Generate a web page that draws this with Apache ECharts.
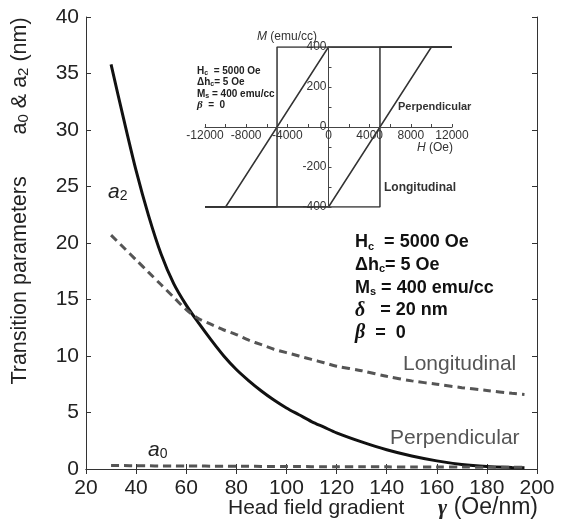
<!DOCTYPE html>
<html>
<head>
<meta charset="utf-8">
<script src="https://cdn.jsdelivr.net/npm/echarts@6/dist/echarts.min.js"></script>
<style>
html,body{margin:0;padding:0;background:#fff;}
#container{width:572px;height:530px;}
</style>
</head>
<body>
<div id="container"></div>
<script>
// main plot: transition parameters vs head field gradient
var gamma = [30,35,40,45,50,55,60,65,70,75,80,85,90,95,100,105,110,115,120,130,140,150,160,170,180,190,195];
var a2Perp = [35.8,31.0,26.4,22.4,19.0,16.4,14.5,12.9,11.4,10.0,8.8,7.8,6.9,6.1,5.4,4.8,4.2,3.7,3.2,2.4,1.7,1.15,0.72,0.4,0.22,0.13,0.1];
var a2Long = [20.7,19.6,18.5,17.4,16.3,15.2,14.1,13.3,12.8,12.3,11.9,11.4,11.0,10.6,10.3,10.0,9.7,9.4,9.1,8.7,8.2,7.8,7.5,7.2,6.95,6.7,6.6];
var a0Long = [0.3,0.3,0.29,0.28,0.27,0.27,0.26,0.26,0.25,0.25,0.24,0.24,0.23,0.23,0.22,0.22,0.21,0.21,0.2,0.2,0.19,0.18,0.18,0.17,0.16,0.15,0.15];

// inset: hysteresis loops
var perpUpH = [-12000,0,10000,12000];
var perpUpM = [-400,-400,400,400];
var perpDownH = [12000,0,-10000,-12000];
var perpDownM = [400,400,-400,-400];
var longUpH = [-12000,5000,5000,12000];
var longUpM = [-400,-400,400,400];
var longDownH = [12000,-5000,-5000,-12000];
var longDownM = [400,400,-400,-400];

var mainText = [
    '{b|H}{bs|c}{b|  = 5000 Oe}',
    '{b|\u0394h}{bs|c}{b|= 5 Oe}',
    '{b|M}{bs|s}{b| = 400 emu/cc}',
    '{g|\u03b4}{b|   = 20 nm}',
    '{g|\u03b2}{b|  =  0}'
];
var insetText = [
    '{b|H}{bs|c}{b|  = 5000 Oe}',
    '{b|\u0394h}{bs|c}{b|= 5 Oe}',
    '{b|M}{bs|s}{b| = 400 emu/cc}',
    '{g|\u03b2}{b|  =  0}'
];

function zip(xs, ys){
    return xs.map(function(x, i){ return [x, ys[i]]; });
}

var FONT = 'Liberation Sans, Arial, sans-serif';
var myChart = echarts.init(document.getElementById('container'));

var mainAxisLine = {lineStyle:{color:'#333', width:1}};
var insetAxisLine = {lineStyle:{color:'#444', width:1}};

var graphics = [];
// y axis title
graphics.push({
    type:'text', x:20, y:201, rotation:Math.PI/2,
    style:{
        text:'{n|Transition parameters       a}{s|0}{n| & a}{s|2}{n| (nm)}',
        align:'center', verticalAlign:'middle',
        rich:{
            n:{fontSize:21.5, fontFamily:FONT, fill:'#222', lineHeight:22},
            s:{fontSize:15, fontFamily:FONT, fill:'#222', lineHeight:6, verticalAlign:'bottom'}
        }
    }
});
// x axis title
graphics.push({
    type:'text', x:228, y:508,
    style:{text:'Head field gradient', fontSize:21, fontFamily:FONT, fill:'#222', verticalAlign:'middle'}
});
graphics.push({
    type:'text', x:538, y:508,
    style:{
        text:'{g|\u03b3}{n| (Oe/nm)}', align:'right', verticalAlign:'middle',
        rich:{
            g:{fontSize:22, fontFamily:'Liberation Serif, serif', fontStyle:'italic', fontWeight:'bold', fill:'#222'},
            n:{fontSize:23, fontFamily:FONT, fill:'#222'}
        }
    }
});
// curve labels
graphics.push({type:'text', x:403, y:364, style:{text:'Longitudinal', fontSize:21, fontFamily:FONT, fill:'#555', verticalAlign:'middle'}});
graphics.push({type:'text', x:390, y:438, style:{text:'Perpendicular', fontSize:21, fontFamily:FONT, fill:'#555', verticalAlign:'middle'}});
var aRich = {
    a:{fontSize:21, fontFamily:FONT, fontStyle:'italic', fill:'#222', lineHeight:22},
    s:{fontSize:14, fontFamily:FONT, fill:'#222', lineHeight:6, verticalAlign:'bottom'}
};
graphics.push({type:'text', x:108, y:192, style:{text:'{a|a}{s|2}', verticalAlign:'middle', rich:aRich}});
graphics.push({type:'text', x:148, y:450, style:{text:'{a|a}{s|0}', verticalAlign:'middle', rich:aRich}});
// parameter block in main plot
mainText.forEach(function(t, i){
    graphics.push({
        type:'text', x:355, y:242 + i*22.8,
        style:{
            text:t, verticalAlign:'middle',
            rich:{
                b:{fontSize:18, fontWeight:'bold', fontFamily:FONT, fill:'#111', lineHeight:20},
                bs:{fontSize:11, fontWeight:'bold', fontFamily:FONT, fill:'#111', lineHeight:8, verticalAlign:'bottom'},
                g:{fontSize:20, fontWeight:'bold', fontStyle:'italic', fontFamily:'Liberation Serif, serif', fill:'#111', lineHeight:20}
            }
        }
    });
});
// parameter block in inset
insetText.forEach(function(t, i){
    graphics.push({
        type:'text', x:197, y:71 + i*11.5,
        style:{
            text:t, verticalAlign:'middle',
            rich:{
                b:{fontSize:10, fontWeight:'bold', fontFamily:FONT, fill:'#222', lineHeight:11},
                bs:{fontSize:7, fontWeight:'bold', fontFamily:FONT, fill:'#222', lineHeight:4, verticalAlign:'bottom'},
                g:{fontSize:11, fontWeight:'bold', fontStyle:'italic', fontFamily:'Liberation Serif, serif', fill:'#222', lineHeight:11}
            }
        }
    });
});
graphics.push({type:'text', x:398, y:107, style:{text:'Perpendicular', fontSize:11, fontWeight:'bold', fontFamily:FONT, fill:'#333', verticalAlign:'middle'}});
graphics.push({type:'text', x:384, y:188, style:{text:'Longitudinal', fontSize:12, fontWeight:'bold', fontFamily:FONT, fill:'#333', verticalAlign:'middle'}});
graphics.push({
    type:'text', x:257, y:37,
    style:{text:'{i|M}{n| (emu/cc)}', verticalAlign:'middle',
        rich:{i:{fontSize:12, fontStyle:'italic', fontFamily:FONT, fill:'#333'}, n:{fontSize:12, fontFamily:FONT, fill:'#333'}}}
});
graphics.push({
    type:'text', x:417, y:148,
    style:{text:'{i|H}{n| (Oe)}', verticalAlign:'middle',
        rich:{i:{fontSize:12, fontStyle:'italic', fontFamily:FONT, fill:'#333'}, n:{fontSize:12, fontFamily:FONT, fill:'#333'}}}
});

var insetLine = {color:'#333', width:1.5};
var plain = function(v){ return String(v); };

var option = {
    backgroundColor:'#fff',
    animation:false,
    textStyle:{fontFamily:FONT},
    grid:[
        {left:86, top:17, width:451, height:452},
        {left:205, top:47, width:247, height:160}
    ],
    xAxis:[
        {
            gridIndex:0, type:'value', min:20, max:200, interval:20,
            axisLine:mainAxisLine,
            axisTick:{inside:true, length:5, lineStyle:{color:'#333'}},
            axisLabel:{fontSize:21, color:'#222', margin:9, fontFamily:FONT},
            splitLine:{show:false}
        },
        {
            gridIndex:0, type:'value', position:'top', min:20, max:200, interval:20,
            axisLine:mainAxisLine,
            axisTick:{inside:true, length:5, lineStyle:{color:'#333'}},
            axisLabel:{show:false}, splitLine:{show:false}
        },
        {
            // inset H axis, moved up to M = 0
            gridIndex:1, type:'value', position:'bottom', offset:-80, min:-12000, max:12000, interval:4000, z:5,
            axisLine:Object.assign({onZero:false}, insetAxisLine),
            axisTick:{inside:true, length:3, lineStyle:{color:'#444'}},
            minorTick:{show:true, splitNumber:2, length:3, lineStyle:{color:'#444'}},
            axisLabel:{fontSize:12, color:'#333', margin:3, fontFamily:FONT, formatter:plain},
            splitLine:{show:false}
        }
    ],
    yAxis:[
        {
            gridIndex:0, type:'value', min:0, max:40, interval:5,
            axisLine:Object.assign({show:true}, mainAxisLine),
            axisTick:{show:true, inside:true, length:5, lineStyle:{color:'#333'}},
            axisLabel:{fontSize:21, color:'#222', margin:7, fontFamily:FONT},
            splitLine:{show:false}
        },
        {
            gridIndex:0, type:'value', position:'right', min:0, max:40, interval:5,
            axisLine:Object.assign({show:true}, mainAxisLine),
            axisTick:{show:true, inside:true, length:5, lineStyle:{color:'#333'}},
            axisLabel:{show:false}, splitLine:{show:false}
        },
        {
            // inset M axis, moved right to H = 0
            gridIndex:1, type:'value', position:'left', offset:-123.5, min:-400, max:400, interval:200, z:5,
            axisLine:Object.assign({show:true, onZero:false}, insetAxisLine),
            axisTick:{show:true, inside:true, length:3, lineStyle:{color:'#444'}},
            minorTick:{show:true, splitNumber:2, length:3, lineStyle:{color:'#444'}},
            axisLabel:{fontSize:12, color:'#333', margin:2, fontFamily:FONT, formatter:plain},
            splitLine:{show:false}
        }
    ],
    series:[
        {
            name:'a2 Perpendicular', type:'line', xAxisIndex:0, yAxisIndex:0,
            data:zip(gamma, a2Perp), smooth:0.3, showSymbol:false,
            lineStyle:{color:'#111', width:3}
        },
        {
            name:'a2 Longitudinal', type:'line', xAxisIndex:0, yAxisIndex:0,
            data:zip(gamma, a2Long), smooth:0.3, showSymbol:false,
            lineStyle:{color:'#555', width:3, type:[8,5]}
        },
        {
            name:'a0 Longitudinal', type:'line', xAxisIndex:0, yAxisIndex:0,
            data:zip(gamma, a0Long), smooth:0.3, showSymbol:false,
            lineStyle:{color:'#555', width:3, type:[8,5]}
        },
        {type:'line', xAxisIndex:2, yAxisIndex:2, data:zip(perpUpH, perpUpM), showSymbol:false, lineStyle:insetLine},
        {type:'line', xAxisIndex:2, yAxisIndex:2, data:zip(perpDownH, perpDownM), showSymbol:false, lineStyle:insetLine},
        {type:'line', xAxisIndex:2, yAxisIndex:2, data:zip(longUpH, longUpM), showSymbol:false, lineStyle:insetLine},
        {type:'line', xAxisIndex:2, yAxisIndex:2, data:zip(longDownH, longDownM), showSymbol:false, lineStyle:insetLine}
    ],
    graphic:graphics
};
myChart.setOption(option);
</script>
</body>
</html>
